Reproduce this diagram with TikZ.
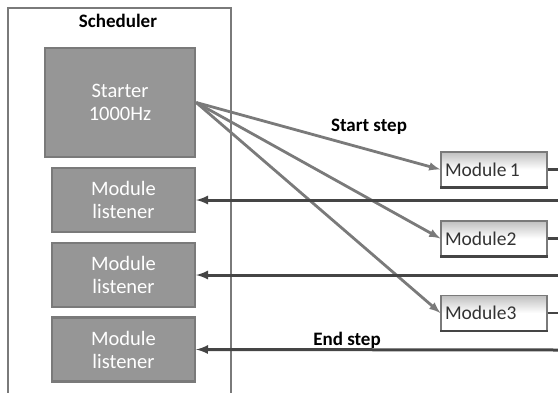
\documentclass[tikz,border=0pt]{standalone}
\usepackage{fontspec}
\setmainfont{Carlito}
\usetikzlibrary{positioning}
\definecolor{boxgray}{HTML}{969696}
\definecolor{edgegray}{HTML}{7A7A7A}
\definecolor{linedark}{HTML}{454545}
\tikzset{
  graybox/.style={draw=edgegray,line width=2.4pt,fill=boxgray,text=white,align=center,font=\fontsize{20.5}{23}\selectfont,inner sep=0pt},
  modbox/.style={draw=edgegray,line width=1.2pt,top color=black!25,bottom color=white,middle color=white,text=black!80,font=\fontsize{19.5}{21}\selectfont,minimum width=106pt,minimum height=35pt,inner sep=0pt,text width=98pt,align=left},
  steplabel/.style={font=\fontsize{19}{21}\selectfont\bfseries},
}
\begin{document}
\begin{tikzpicture}[x=1pt,y=-1pt]
\useasboundingbox (0,0) rectangle (558,392);
\draw [edgegray,line width=2.8pt] (8,400) -- (8,8) -- (231,8) -- (231,400);
\node [steplabel] (sched) at (118,21) {Scheduler};
\node [graybox,minimum width=150pt,minimum height=109pt] (starter) at (120,102.5) {Starter\\1000Hz};
\node [graybox,minimum width=143pt,minimum height=64pt] (lis1) at (123.5,200) {Module\\listener};
\node [graybox,minimum width=143pt,minimum height=64pt] (lis2) at (123.5,275) {Module\\listener};
\node [graybox,minimum width=143pt,minimum height=64pt] (lis3) at (123.5,349.5) {Module\\listener};
\node [modbox] (mod1) at (494,169.5) {Module\,1};
\node [modbox] (mod2) at (494,238.5) {Module2};
\node [modbox] (mod3) at (494,313) {Module3};
\draw [linedark,line width=2.4pt] (mod1.south west) -- (mod1.south east);
\draw [linedark,line width=2.4pt] (mod2.south west) -- (mod2.south east);
\draw [linedark,line width=2.4pt] (mod3.south west) -- (mod3.south east);
% start arrows
\draw [>=latex,->,edgegray,line width=2.8pt] (starter.east) -- (mod1.west);
\draw [>=latex,->,edgegray,line width=2.8pt] (starter.east) -- (mod2.west);
\draw [>=latex,->,edgegray,line width=2.8pt] (starter.east) -- (mod3.west);
\node [steplabel] (startlbl) at (369,127) {Start step};
% stubs and return lines
\coordinate (r1) at (558,200);
\coordinate (r2) at (558,275);
\coordinate (r3) at (558,350);
\draw [linedark,line width=3.4pt] (mod1.east) -- (558,169.5);
\draw [linedark,line width=3.4pt] (mod2.east) -- (558,238.5);
\draw [linedark,line width=1.8pt] (mod3.east) -- (558,313);
\draw [>=latex,->,linedark,line width=3pt] (r1) -- (lis1.east);
\draw [>=latex,->,linedark,line width=3pt] (r2) -- (lis2.east);
\draw [>=latex,->,linedark,line width=3pt] (r3) -- (lis3.east);
\node [steplabel] (endlbl) at (347,340) {End step};
\end{tikzpicture}
\end{document}
